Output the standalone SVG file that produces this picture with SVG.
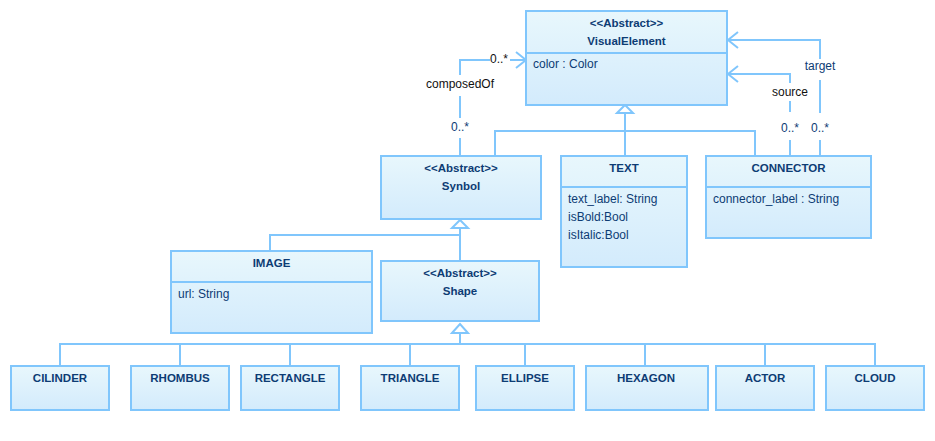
<svg xmlns="http://www.w3.org/2000/svg" width="935" height="441" viewBox="0 0 935 441">
<defs>
<linearGradient id="g" x1="0" y1="0" x2="0" y2="1">
<stop offset="0" stop-color="#e8f7fc"/>
<stop offset="1" stop-color="#d3ebfc"/>
</linearGradient>
<style>
.box{fill:url(#g);stroke:#80c6fc;stroke-width:2}
.div{stroke:#80c6fc;stroke-width:2}
.ln{fill:none;stroke:#80c6fc;stroke-width:2}
.tri{fill:#ffffff;stroke:#80c6fc;stroke-width:2}
.t{font-family:"Liberation Sans",Arial,sans-serif;font-size:11.5px;font-weight:bold;fill:#0d3c74;text-anchor:middle}
.a{font-family:"Liberation Sans",Arial,sans-serif;font-size:12px;fill:#0d3c74}
.lb{font-family:"Liberation Sans",Arial,sans-serif;font-size:12px;fill:#111111;text-anchor:middle}
.lbb{font-family:"Liberation Sans",Arial,sans-serif;font-size:12px;fill:#0d3c74;text-anchor:middle}
</style>
</defs>
<rect width="935" height="441" fill="#ffffff"/>
<g id="connectors">
<!-- generalization to VisualElement -->
<path class="ln" d="M625 113V131M495 155V131H755V155M625 131V155"/>
<polygon class="tri" points="617,113 625,105 633,113"/>
<!-- generalization to Symbol -->
<path class="ln" d="M460 228V261M270 251V235H460"/>
<polygon class="tri" points="452,228 460,220 468,228"/>
<!-- generalization to Shape -->
<path class="ln" d="M460 333V344M60 366V344H875V366M180 344V366M290 344V366M410 344V366M525 344V366M645 344V366M765 344V366"/>
<polygon class="tri" points="452,333 460,324 468,333"/>
<!-- composedOf -->
<path class="ln" d="M460 155V138M460 118V96M460 75V60H490M510 60H526M516 52L526 60L516 68"/>
<text class="lb" x="460" y="88">composedOf</text>
<text class="lb" x="499" y="62.5">0..*</text>
<text class="lbb" x="460" y="131">0..*</text>
<!-- source -->
<path class="ln" d="M790 155V140M790 112V101M790 83V74H728M738 66L728 74L738 82"/>
<text class="lb" x="790" y="95.5">source</text>
<text class="lbb" x="790" y="131.5">0..*</text>
<!-- target -->
<path class="ln" d="M820 155V140M820 113V80M820 59V40H728M738 32L728 40L738 48"/>
<text class="lbb" x="820" y="70">target</text>
<text class="lbb" x="820" y="131.5">0..*</text>
</g>
<g id="VisualElement">
<rect class="box" x="526" y="11" width="201" height="94"/>
<line class="div" x1="526" y1="53" x2="727" y2="53"/>
<text class="t" x="626.5" y="27">&lt;&lt;Abstract&gt;&gt;</text>
<text class="t" x="626.5" y="45">VisualElement</text>
<text class="a" x="533" y="68">color : Color</text>
</g>
<g id="Symbol">
<rect class="box" x="381" y="156" width="160" height="63"/>
<text class="t" x="461" y="171.5">&lt;&lt;Abstract&gt;&gt;</text>
<text class="t" x="461" y="190">Synbol</text>
</g>
<g id="TEXT">
<rect class="box" x="561" y="156" width="126" height="111"/>
<line class="div" x1="561" y1="187" x2="687" y2="187"/>
<text class="t" x="624" y="171.5">TEXT</text>
<text class="a" x="568" y="203">text_label: String</text>
<text class="a" x="568" y="221">isBold:Bool</text>
<text class="a" x="568" y="239">isItalic:Bool</text>
</g>
<g id="CONNECTOR">
<rect class="box" x="706" y="156" width="165" height="82"/>
<line class="div" x1="706" y1="187" x2="871" y2="187"/>
<text class="t" x="788.5" y="171.5">CONNECTOR</text>
<text class="a" x="713" y="203">connector_label : String</text>
</g>
<g id="IMAGE">
<rect class="box" x="171" y="251" width="201" height="82"/>
<line class="div" x1="171" y1="282" x2="372" y2="282"/>
<text class="t" x="271.5" y="267">IMAGE</text>
<text class="a" x="178" y="297.5">url: String</text>
</g>
<g id="Shape">
<rect class="box" x="381" y="261" width="158" height="60"/>
<text class="t" x="460" y="276.5">&lt;&lt;Abstract&gt;&gt;</text>
<text class="t" x="460" y="295">Shape</text>
</g>
<g id="CILINDER"><rect class="box" x="11" y="366" width="98" height="44"/><text class="t" x="60" y="382">CILINDER</text></g>
<g id="RHOMBUS"><rect class="box" x="131" y="366" width="98" height="44"/><text class="t" x="180" y="382">RHOMBUS</text></g>
<g id="RECTANGLE"><rect class="box" x="241" y="366" width="98" height="44"/><text class="t" x="290" y="382">RECTANGLE</text></g>
<g id="TRIANGLE"><rect class="box" x="361" y="366" width="98" height="44"/><text class="t" x="410" y="382">TRIANGLE</text></g>
<g id="ELLIPSE"><rect class="box" x="476" y="366" width="98" height="44"/><text class="t" x="525" y="382">ELLIPSE</text></g>
<g id="HEXAGON"><rect class="box" x="586" y="366" width="122" height="44"/><text class="t" x="646" y="382">HEXAGON</text></g>
<g id="ACTOR"><rect class="box" x="716" y="366" width="98" height="44"/><text class="t" x="765" y="382">ACTOR</text></g>
<g id="CLOUD"><rect class="box" x="826" y="366" width="98" height="44"/><text class="t" x="875" y="382">CLOUD</text></g>
</svg>
